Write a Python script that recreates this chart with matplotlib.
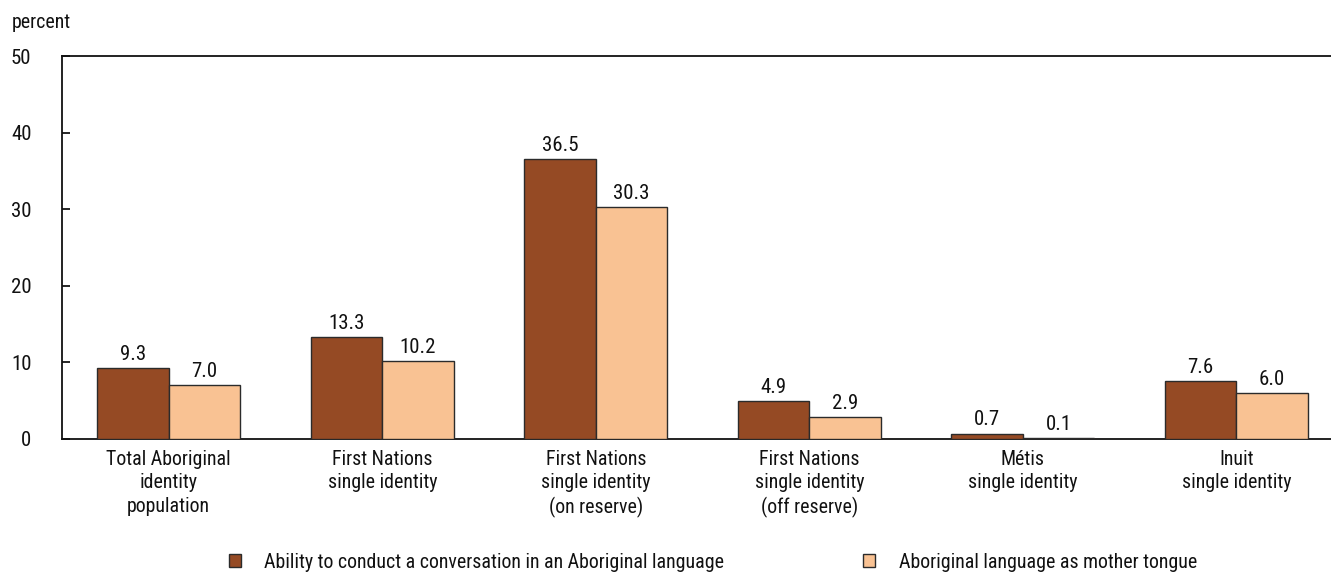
import matplotlib
matplotlib.use("Agg")
import matplotlib.pyplot as plt
import numpy as np
from matplotlib.patches import Patch
from matplotlib import font_manager

categories = ["Total Aboriginal\nidentity\npopulation",
              "First Nations\nsingle identity",
              "First Nations\nsingle identity\n(on reserve)",
              "First Nations\nsingle identity\n(off reserve)",
              "Métis\nsingle identity",
              "Inuit\nsingle identity"]
ability = [9.3, 13.3, 36.5, 4.9, 0.7, 7.6]
mother_tongue = [7.0, 10.2, 30.3, 2.9, 0.1, 6.0]
series_names = ["Ability to conduct a conversation in an Aboriginal language",
                "Aboriginal language as mother tongue"]
yticks = [0, 10, 20, 30, 40, 50]

available = {f.name for f in font_manager.fontManager.ttflist}
chosen = next((n for n in ["Roboto Condensed", "Liberation Sans Narrow", "Archivo Narrow",
                           "PT Sans Narrow", "Barlow Semi Condensed", "Liberation Sans"]
               if n in available), "DejaVu Sans")
plt.rcParams['font.family'] = [chosen, 'DejaVu Sans']
FS = 14.3
FSV = 15
c_dark = "#954A24"
c_light = "#F9C293"
edge = "#2b2b2b"
tc = "#111111"

fig = plt.figure(figsize=(13.31, 5.73), dpi=100)
W, H = 1331, 573
ax_left, ax_right, ax_top, ax_bottom = 62, 1343, 56, 439
ax = fig.add_axes([ax_left / W, 1 - ax_bottom / H, (ax_right - ax_left) / W, (ax_bottom - ax_top) / H])

x = np.arange(len(categories))
bw = 0.335
b1 = ax.bar(x - bw / 2, ability, bw, color=c_dark, edgecolor=edge, linewidth=1.0, zorder=3)
b2 = ax.bar(x + bw / 2, mother_tongue, bw, color=c_light, edgecolor=edge, linewidth=1.0, zorder=3)
for bars, vals in ((b1, ability), (b2, mother_tongue)):
    for r, v in zip(bars, vals):
        ax.annotate(f"{v:.1f}", (r.get_x() + r.get_width() / 2, v), xytext=(0, 3),
                    textcoords="offset points", ha="center", va="bottom", fontsize=FSV, color=tc)

ax.set_xlim(-0.5, len(categories) - 0.5)
ax.set_ylim(0, 50)
ax.set_yticks(yticks)
ax.set_xticks(x)
ax.set_xticklabels(categories, fontsize=FS, color=tc, linespacing=1.28)
ax.tick_params(axis="x", length=0, pad=8)
ax.tick_params(axis="y", direction="in", length=6, width=1.2, pad=22, labelsize=FSV, labelcolor=tc)
ax.spines["right"].set_visible(False)
for s in ("left", "bottom", "top"):
    ax.spines[s].set_linewidth(1.3)
    ax.spines[s].set_color(tc)

fig.text(12 / W, 1 - 22 / H, "percent", fontsize=FS, color=tc, va="center", ha="left")

handles = [Patch(facecolor=c_dark, edgecolor=edge, linewidth=1.0),
           Patch(facecolor=c_light, edgecolor=edge, linewidth=1.0)]
leg = fig.legend(handles, series_names, loc="center", bbox_to_anchor=(713 / W, 1 - 562 / H),
                 ncol=2, frameon=False, fontsize=FS, handlelength=0.6, handleheight=0.6,
                 handletextpad=1.2, columnspacing=7.0)
for t in leg.get_texts():
    t.set_color(tc)

fig.savefig("out.png", dpi=100)
